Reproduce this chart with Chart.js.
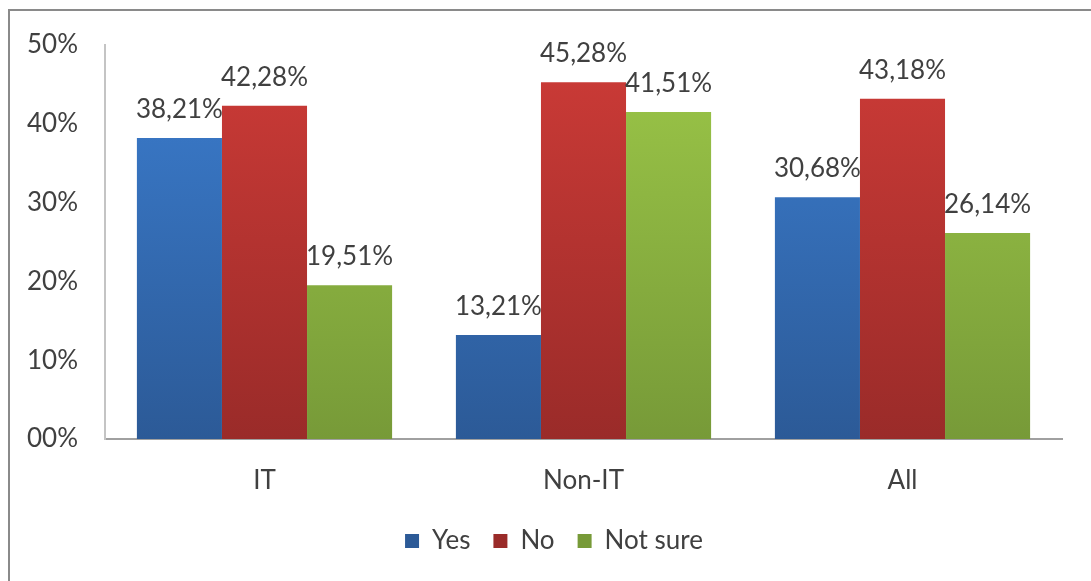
<!DOCTYPE html>
<html>
<head>
<meta charset="utf-8">
<script src="https://cdn.jsdelivr.net/npm/chart.js@4"></script>
<style>
  body { margin: 0; background: #fff; }
  #wrap { position: relative; width: 1091px; height: 581px; overflow: hidden; }
  #frame { position: absolute; left: 8px; top: 9px; width: 1200px; height: 700px;
           border-left: 2px solid #8a8a8a; border-top: 2px solid #8a8a8a; pointer-events: none; }
</style>
</head>
<body>
<div id="wrap">
  <canvas id="survey" width="1091" height="581"></canvas>
  <div id="frame"></div>
</div>
<script>
// Chart data
const categories = ['IT', 'Non-IT', 'All'];
const yesValues = [38.21, 13.21, 30.68];
const noValues = [42.28, 45.28, 43.18];
const notSureValues = [19.51, 41.51, 26.14];
const yTicks = [0, 10, 20, 30, 40, 50];

const textColor = '#404040';
const fontFamily = 'Lato, "Open Sans", sans-serif';

// vertical gradient like the Excel bars
function gradient(top, bottom) {
    return (c) => {
        const area = c.chart.chartArea;
        if (!area) return top;
        const g = c.chart.ctx.createLinearGradient(0, area.top, 0, area.bottom);
        g.addColorStop(0, top);
        g.addColorStop(1, bottom);
        return g;
    };
}

// value labels above bars
const valueLabels = {
    id: 'valueLabels',
    afterDatasetsDraw(chart) {
        const ctx = chart.ctx;
        ctx.save();
        ctx.font = '26px ' + fontFamily;
        ctx.fillStyle = textColor;
        ctx.textAlign = 'center';
        ctx.textBaseline = 'alphabetic';
        chart.data.datasets.forEach((ds, i) => {
            chart.getDatasetMeta(i).data.forEach((bar, j) => {
                const txt = ds.data[j].toFixed(2).replace('.', ',') + '%';
                ctx.fillText(txt, bar.x, bar.y - 20);
            });
        });
        ctx.restore();
    }
};

// legend sits a bit right of centre in the original
const legendShift = {
    id: 'legendShift',
    afterLayout(chart) {
        chart.legend.left += 23;
        chart.legend.right += 23;
    }
};

new Chart(document.getElementById('survey'), {
    type: 'bar',
    data: {
        labels: categories,
        datasets: [{
            label: 'Yes',
            data: yesValues,
            backgroundColor: gradient('#3b7dcf', '#2c5a97')
        }, {
            label: 'No',
            data: noValues,
            backgroundColor: gradient('#cd3b37', '#9a2b29')
        }, {
            label: 'Not sure',
            data: notSureValues,
            backgroundColor: gradient('#9cc748', '#779a38')
        }]
    },
    options: {
        responsive: false,
        animation: false,
        layout: {
            padding: { left: 0, top: 45, right: 29, bottom: 17 }
        },
        datasets: {
            bar: {
                categoryPercentage: 0.8,
                barPercentage: 1.0
            }
        },
        plugins: {
            legend: {
                position: 'bottom',
                labels: {
                    boxWidth: 14,
                    boxHeight: 14,
                    padding: 23,
                    color: textColor,
                    font: { size: 26, family: fontFamily }
                }
            },
            tooltip: { enabled: false }
        },
        scales: {
            x: {
                grid: { display: false, drawTicks: false },
                border: { display: true, color: '#a0a0a0', width: 2 },
                ticks: {
                    padding: 26,
                    color: textColor,
                    font: { size: 26, family: fontFamily }
                },
                afterFit(scale) { scale.height = 66; }
            },
            y: {
                min: 0,
                max: 50,
                afterBuildTicks(scale) {
                    scale.ticks = yTicks.map(v => ({ value: v }));
                },
                grid: { display: false, drawTicks: false },
                border: { display: true, color: '#c4c4c4', width: 2 },
                ticks: {
                    padding: 27,
                    color: textColor,
                    font: { size: 26, family: fontFamily },
                    callback: (v) => (v === 0 ? '00' : v) + '%'
                },
                afterFit(scale) { scale.width = 105; }
            }
        }
    },
    plugins: [valueLabels, legendShift]
});
</script>
</body>
</html>
